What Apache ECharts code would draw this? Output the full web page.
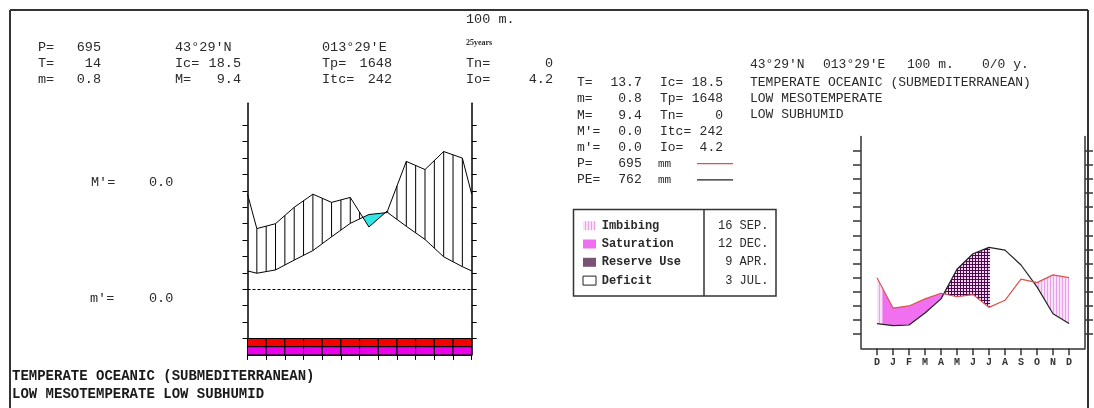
<!DOCTYPE html>
<html><head><meta charset="utf-8">
<script src="https://cdn.jsdelivr.net/npm/echarts@6/dist/echarts.min.js"></script>
<style>html,body{margin:0;padding:0;background:#fff}#c{width:1094px;height:408px}</style>
</head><body><div id="c"></div>
<script>
// ---------------- data ----------------
const monthLetters = ['J','F','M','A','M','J','J','A','S','O','N','D'];
const waterAxisLabels = ['D','J','F','M','A','M','J','J','A','S','O','N','D'];
const tempC = [4.9, 5.9, 8.9, 11.8, 16.0, 20.1, 22.8, 23.4, 19.2, 15.2, 9.9, 6.9];
const precipMm = [37, 40, 50, 58, 53, 56, 38, 48, 78, 73, 84, 80];
const petMm = [12, 13, 30, 50, 92, 114, 123, 119, 98, 67, 29, 15];
const tempYearEdge = 5.6;     // temperature drawn at both year edges
const precipYearEdge = 58;    // rainfall (mm) drawn at both year edges
const tempTicks = [-15,-10,-5,0,5,10,15,20,25,30,35,40,45,50];
const waterTicks = [0,20,40,60,80,100,120,140,160,180,200,220,240,260];
const phaseNames = ['Imbibing','Saturation','Reserve Use','Deficit'];
const phaseStarts = ['16 SEP.','12 DEC.',' 9 APR.',' 3 JUL.'];
const headerLeft = [
  ['P=','695','43°29\'N','','013°29\'E','','25years',''],
  ['T=','14','Ic=','18.5','Tp=','1648','Tn=','0'],
  ['m=','0.8','M=','9.4','Itc=','242','Io=','4.2']
];
const altitudeText = '100 m.';
const summaryRows = [
  ['T=','13.7','Ic=','18.5'],
  ['m=','0.8','Tp=','1648'],
  ['M=','9.4','Tn=','0'],
  ["M'=",'0.0','Itc=','242'],
  ["m'=",'0.0','Io=','4.2'],
  ['P=','695','mm',''],
  ['PE=','762','mm','']
];
const classLines = ['TEMPERATE OCEANIC (SUBMEDITERRANEAN)','LOW MESOTEMPERATE','LOW SUBHUMID'];
const stationLine = ['43°29\'N','013°29\'E','100 m.','0/0 y.'];

// ---------------- helpers ----------------
const MONO = "'Liberation Mono','DejaVu Sans Mono',monospace";
const TXT = '#2a2a2a';
function interp(xs, ys) {
  return x => {
    for (let k = 0; k < xs.length - 1; k++) {
      if (x <= xs[k + 1]) { const t = (x - xs[k]) / (xs[k + 1] - xs[k]); return ys[k] + t * (ys[k + 1] - ys[k]); }
    }
    return ys[ys.length - 1];
  };
}
function band(xs, top, bot, x0, x1) {
  let s = [x0, x1].concat(xs.filter(x => x > x0 && x < x1)).sort((a, b) => a - b);
  const f = x => top(x) - bot(x);
  const extra = [];
  for (let k = 0; k < s.length - 1; k++) {
    const a = s[k], b = s[k + 1], da = f(a), db = f(b);
    if (da * db < 0) extra.push(a + (b - a) * da / (da - db));
  }
  s = s.concat(extra).sort((a, b) => a - b);
  const up = s.map(x => [x, top(x)]);
  const lo = s.map(x => [x, Math.min(bot(x), top(x))]).reverse();
  return up.concat(lo);
}
function makePattern(w, h, bg, fg, draw) {
  const c = document.createElement('canvas'); c.width = w; c.height = h;
  const g = c.getContext('2d'); g.fillStyle = bg; g.fillRect(0, 0, w, h); g.fillStyle = fg; draw(g);
  return { image: c, repeat: 'repeat' };
}
const stripePat = makePattern(3, 1, '#fbe0fb', '#e6a2e6', g => g.fillRect(0, 0, 1, 1));
const gridPat = makePattern(3, 3, '#f4d2f4', '#4a0a4a', g => { g.fillRect(0, 0, 3, 1); g.fillRect(0, 0, 1, 3); });
const MON = {JAN:1,FEB:2,MAR:3,APR:4,MAY:5,JUN:6,JUL:7,AUG:8,SEP:9,OCT:10,NOV:11,DEC:12};
const DIM = [31,28,31,30,31,30,31,31,30,31,30,31];
function datePos(s) {
  const parts = s.replace('.', '').trim().split(/\s+/);
  const mi = MON[parts[1]];
  let p = mi + (parseInt(parts[0], 10) - 1) / DIM[mi - 1];
  if (p > 12) p -= 12;
  return p;
}

// ---------------- left diagram curves ----------------
const lx = [0].concat(tempC.map((v, i) => i + 0.5), [12]);
const tCurve = [tempYearEdge].concat(tempC, [tempYearEdge]);
const pCurve = [precipYearEdge / 2].concat(precipMm.map(v => v / 2), [precipYearEdge / 2]);
const tF = interp(lx, tCurve), pF = interp(lx, pCurve);

// ---------------- right diagram curves ----------------
const rx = waterAxisLabels.map((l, i) => i);
const pW = [precipMm[11]].concat(precipMm);
const peW = [petMm[11]].concat(petMm);
const pWF = interp(rx, pW), peWF = interp(rx, peW);
const phaseStyle = [
  { fill: stripePat, topIsP: true },
  { fill: '#f070f0', topIsP: true },
  { fill: gridPat, topIsP: false },
  { fill: null, topIsP: false }
];
const legendSwatch = [stripePat, '#f06ef0', '#7a5276', '#ffffff'];

const chart = echarts.init(document.getElementById('c'), null, { renderer: 'canvas' });

// texts
const g = [];
function t(text, x, y, font, align, color) {
  g.push({ type: 'text', silent: true, z: 10, style: { text: text, x: x, y: y, font: font, fill: color || TXT,
    textAlign: align || 'left', align: align || 'left', textVerticalAlign: 'middle', verticalAlign: 'middle' } });
}
function ln(x1, y1, x2, y2, color, w) {
  g.push({ type: 'line', silent: true, z: 10, shape: { x1: x1, y1: y1, x2: x2, y2: y2 }, style: { stroke: color, lineWidth: w } });
}
// frame
ln(10, 10, 1088, 10, '#333', 2);
ln(10, 10, 10, 408, '#333', 2);
ln(1088, 10, 1088, 408, '#333', 2);

const LF = '13.5px ' + MONO;
t(altitudeText, 466, 19, LF);
const hy = [47, 63.5, 79.5];
const colL = [38, 175, 322, 466];
const colR = [101, 241, 392, 553];
// row 1
t(headerLeft[0][0], colL[0], hy[0], LF); t(headerLeft[0][1], colR[0], hy[0], LF, 'right');
t(headerLeft[0][2], colL[1], hy[0], LF); t(headerLeft[0][4], colL[2], hy[0], LF);
t(headerLeft[0][6], colL[3], hy[0] - 4, 'bold 8px "Liberation Serif",serif');
for (let r = 1; r < 3; r++) {
  const row = headerLeft[r];
  for (let c = 0; c < 4; c++) {
    t(row[2 * c], colL[c], hy[r], LF);
    t(row[2 * c + 1], colR[c], hy[r], LF, 'right');
  }
}
t("M'=", 91, 182, LF); t('0.0', 149, 182, LF);
t("m'=", 90, 298.5, LF); t('0.0', 149, 298.5, LF);
t(classLines[0], 12, 376.5, 'bold 14px ' + MONO, 'left', '#1a1a1a');
t(classLines[1] + ' ' + classLines[2], 12, 394, 'bold 14px ' + MONO, 'left', '#1a1a1a');

// right block
const RF = '13px ' + MONO;
const sx = [750, 823, 907, 982];
stationLine.forEach((s, i) => t(s, sx[i], 65, RF));
classLines.forEach((s, i) => t(s, 750, 82.7 + 16 * i, RF));
summaryRows.forEach((row, i) => {
  const y = 82.7 + 16.2 * i;
  t(row[0], 577, y, RF); t(row[1], 641.7, y, RF, 'right');
  if (i < 5) { t(row[2], 660, y, RF); t(row[3], 723, y, RF, 'right'); }
  else { t(row[2], 658, y, '11px ' + MONO); }
});
ln(697, 82.7 + 16.2 * 5, 733, 82.7 + 16.2 * 5, '#d9534f', 1.2);
ln(697, 82.7 + 16.2 * 6, 733, 82.7 + 16.2 * 6, '#222', 1.2);

// legend table
const boxR = 776;
g.push({ type: 'rect', silent: true, z: 10, shape: { x: 573.5, y: 209.5, width: boxR - 573.5, height: 86.5 }, style: { fill: 'none', stroke: '#333', lineWidth: 1.5 } });
ln(704, 209.5, 704, 296, '#333', 1.5);
const LGF = 'bold 12px ' + MONO;
phaseNames.forEach((n, i) => {
  const y = 225.7 + 18.3 * i;
  g.push({ type: 'rect', silent: true, z: 10, shape: { x: 583, y: y - 4.5, width: 13, height: 9 },
    style: { fill: legendSwatch[i], stroke: i === 3 ? '#222' : null, lineWidth: 1 } });
  t(n, 601.7, y, LGF);
  t(phaseStarts[i], 718, y, '12px ' + MONO);
});

const noLab = { show: false };
const option = {
  animation: false,
  backgroundColor: '#fff',
  graphic: g,
  grid: [
    { left: 247.5, top: 103.3, width: 224.2, height: 251.6, containLabel: false, outerBoundsMode: 'none' },
    { left: 861, top: 136.5, width: 224, height: 211.8, containLabel: false, outerBoundsMode: 'none' }
  ],
  xAxis: [
    { gridIndex: 0, type: 'value', min: 0, max: 12, interval: 1, axisLabel: noLab, splitLine: { show: false },
      axisLine: { onZero: false, lineStyle: { color: '#000', width: 1 } },
      axisTick: { length: 5, lineStyle: { color: '#000', width: 1 } } },
    { gridIndex: 1, type: 'value', min: -1, max: 13, interval: 1, splitLine: { show: false },
      axisLine: { onZero: false, lineStyle: { color: '#333', width: 1.5 } },
      axisTick: { length: 7, customValues: rx, lineStyle: { color: '#333', width: 1.5 } },
      axisLabel: { customValues: rx, margin: 9, formatter: v => waterAxisLabels[v] || '',
        fontFamily: MONO, fontSize: 10, fontWeight: 'bold', color: '#333' } }
  ],
  yAxis: [
    { gridIndex: 0, type: 'value', min: -20, max: 56.7, interval: 5, position: 'left', axisLabel: noLab, splitLine: { show: false },
      axisLine: { show: true, onZero: false, lineStyle: { color: '#000', width: 1.5 } },
      axisTick: { show: true, length: 5, customValues: tempTicks, lineStyle: { color: '#000', width: 1 } } },
    { gridIndex: 0, type: 'value', min: -20, max: 56.7, interval: 5, position: 'right', axisLabel: noLab, splitLine: { show: false },
      axisLine: { show: true, onZero: false, lineStyle: { color: '#000', width: 1.5 } },
      axisTick: { show: true, length: 5, customValues: tempTicks, lineStyle: { color: '#000', width: 1 } } },
    { gridIndex: 1, type: 'value', min: -20, max: 280, interval: 20, position: 'left', axisLabel: noLab, splitLine: { show: false },
      axisLine: { show: true, onZero: false, lineStyle: { color: '#333', width: 1.5 } },
      axisTick: { show: true, length: 8, customValues: waterTicks, lineStyle: { color: '#333', width: 1.5 } } },
    { gridIndex: 1, type: 'value', min: -20, max: 280, interval: 20, position: 'right', axisLabel: noLab, splitLine: { show: false },
      axisLine: { show: true, onZero: false, lineStyle: { color: '#333', width: 1.5 } },
      axisTick: { show: true, length: 8, customValues: waterTicks, lineStyle: { color: '#333', width: 1.5 } } }
  ],
  series: [
    { type: 'custom', xAxisIndex: 0, yAxisIndex: 0, silent: true, z: 1, data: [[0, 0]],
      renderItem: (params, api) => {
        const pts = band(lx, tF, pF, 0, 12).map(p => api.coord(p));
        return { type: 'polygon', shape: { points: pts }, style: { fill: '#33e6e6', stroke: null } };
      } },
    { type: 'custom', xAxisIndex: 0, yAxisIndex: 0, silent: true, z: 2, data: monthLetters.map((m, i) => [i, 0]),
      renderItem: (params, api) => {
        const i = params.dataIndex, kids = [];
        [i + 0.5, i + 1].forEach(x => {
          if (x >= 12) return;
          const a = tF(x), b = pF(x);
          if (b > a) {
            const p1 = api.coord([x, a]), p2 = api.coord([x, b]);
            kids.push({ type: 'line', shape: { x1: p1[0], y1: p1[1], x2: p2[0], y2: p2[1] }, style: { stroke: '#000', lineWidth: 1 } });
          }
        });
        return { type: 'group', children: kids };
      } },
    { type: 'line', xAxisIndex: 0, yAxisIndex: 0, name: 'T', silent: true, z: 3, symbol: 'none', showSymbol: false,
      data: lx.map((x, k) => [x, tCurve[k]]), lineStyle: { color: '#000', width: 1 },
      markLine: { silent: true, symbol: ['none', 'none'], label: { show: false }, data: [{ yAxis: 0 }],
        lineStyle: { color: '#000', type: [3, 2], width: 1 } } },
    { type: 'line', xAxisIndex: 0, yAxisIndex: 0, name: 'P', silent: true, z: 3, symbol: 'none', showSymbol: false,
      data: lx.map((x, k) => [x, pCurve[k]]), lineStyle: { color: '#000', width: 1 } },
    { type: 'custom', xAxisIndex: 0, yAxisIndex: 0, silent: true, z: 3, data: monthLetters.map((m, i) => [i, 0]),
      renderItem: (params, api) => {
        const i = params.dataIndex;
        const a = api.coord([i, -15]), b = api.coord([i + 1, -17.5]), c = api.coord([i + 1, -20]);
        return { type: 'group', children: [
          { type: 'rect', shape: { x: a[0], y: a[1], width: b[0] - a[0], height: b[1] - a[1] }, style: { fill: '#f40000', stroke: '#000', lineWidth: 1 } },
          { type: 'rect', shape: { x: a[0], y: b[1], width: b[0] - a[0], height: c[1] - b[1] }, style: { fill: '#ea00ea', stroke: '#000', lineWidth: 1 } }
        ] };
      } },
    { type: 'custom', xAxisIndex: 1, yAxisIndex: 2, silent: true, z: 1, data: phaseNames.map((n, i) => [i, 0]),
      renderItem: (params, api) => {
        const i = params.dataIndex, st = phaseStyle[i];
        if (!st.fill) return { type: 'group', children: [] };
        const x0 = datePos(phaseStarts[i]), x1 = datePos(phaseStarts[(i + 1) % phaseStarts.length]);
        const spans = x1 > x0 ? [[x0, x1]] : [[x0, 12], [0, x1]];
        const top = st.topIsP ? pWF : peWF, bot = st.topIsP ? peWF : pWF;
        return { type: 'group', children: spans.map(sp => ({
          type: 'polygon', shape: { points: band(rx, top, bot, sp[0], sp[1]).map(p => api.coord(p)) },
          style: { fill: st.fill, stroke: null } })) };
      } },
    { type: 'line', xAxisIndex: 1, yAxisIndex: 2, name: 'PE', silent: true, z: 3, symbol: 'none', showSymbol: false,
      data: rx.map(k => [k, peW[k]]), lineStyle: { color: '#222', width: 1.2 } },
    { type: 'line', xAxisIndex: 1, yAxisIndex: 2, name: 'P', silent: true, z: 4, symbol: 'none', showSymbol: false,
      data: rx.map(k => [k, pW[k]]), lineStyle: { color: '#d9534f', width: 1.2 } }
  ]
};
chart.setOption(option);
</script>
</body></html>
